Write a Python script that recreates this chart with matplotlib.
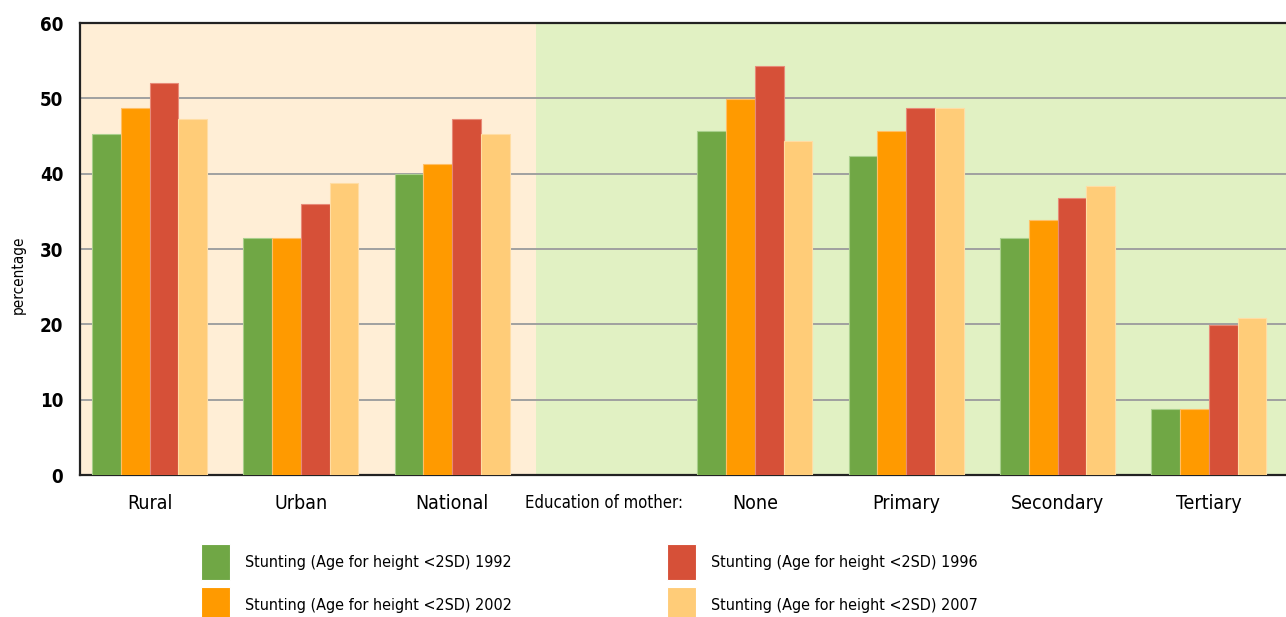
import numpy as np
import matplotlib.pyplot as plt
from matplotlib.patches import Patch

# Categories along the x axis (the blank one carries the section label)
categories = ["Rural", "Urban", "National", "Education of mother:",
              "None", "Primary", "Secondary", "Tertiary"]

# Stunting percentages per survey year (NaN = no bar)
nan = np.nan
stunting_1992 = [45.3, 31.4, 39.9, nan, 45.6, 42.3, 31.5, 8.7]
stunting_2002 = [48.7, 31.4, 41.3, nan, 49.9, 45.6, 33.8, 8.7]
stunting_1996 = [52.0, 36.0, 47.3, nan, 54.3, 48.7, 36.8, 19.9]
stunting_2007 = [47.3, 38.7, 45.3, nan, 44.4, 48.7, 38.4, 20.8]

series_labels = ["Stunting (Age for height <2SD) 1992",
                 "Stunting (Age for height <2SD) 2002",
                 "Stunting (Age for height <2SD) 1996",
                 "Stunting (Age for height <2SD) 2007"]
series_colours = ["#70a745", "#ff9a00", "#d65038", "#ffcc78"]
edge_colours = ["#a9cf8c", "#ffbf66", "#e88a78", "#ffdda4"]

FONT = "DejaVu Sans"
STRETCH = "condensed"

fig = plt.figure(figsize=(12.86, 6.17), dpi=100)
ax = fig.add_axes([0.0622, 0.2301, 0.9378, 0.7326])

x = np.arange(len(categories))
width = 0.19
offsets = np.array([-1.5, -0.5, 0.5, 1.5]) * width

# Shaded backgrounds for the two sections
ax.axvspan(-0.47, 2.555, color="#ffeed6", zorder=0, lw=0)
ax.axvspan(2.555, 7.6, color="#e1f1c3", zorder=0, lw=0)

all_series = [stunting_1992, stunting_2002, stunting_1996, stunting_2007]
for vals, off, col, ecol, lab in zip(all_series, offsets, series_colours,
                                     edge_colours, series_labels):
    ax.bar(x + off, vals, width, color=col, edgecolor=ecol, linewidth=0.8,
           label=lab, zorder=3)

ax.set_xlim(-0.46, 7.51)
ax.set_ylim(0, 60)
ax.set_yticks(np.arange(0, 61, 10))
ax.yaxis.grid(True, color="#a0a0a0", linewidth=1.4, zorder=1)
ax.set_axisbelow(True)

ax.set_xticks(x)
ax.set_xticklabels(categories, fontfamily=FONT, fontstretch=STRETCH, fontsize=14)
for lbl in ax.get_yticklabels():
    lbl.set_fontfamily(FONT)
    lbl.set_fontstretch(STRETCH)
    lbl.set_fontweight("bold")
    lbl.set_fontsize(13.5)
ax.get_xticklabels()[3].set_fontsize(12)
ax.tick_params(axis="both", length=0)
ax.tick_params(axis="x", pad=14)
ax.tick_params(axis="y", pad=12)

ax.spines["right"].set_visible(False)
for side in ["left", "top", "bottom"]:
    ax.spines[side].set_color("#222222")
    ax.spines[side].set_linewidth(1.6)

fig.text(0.014, 0.555, "percentage", rotation=90, ha="center", va="center",
         fontfamily=FONT, fontstretch=STRETCH, fontsize=11)

# Legend below the plot, two columns
handles = [Patch(facecolor=c, edgecolor="white", linewidth=0.8) for c in series_colours]
fig.legend(handles, series_labels, loc="upper left", bbox_to_anchor=(0.1563, 0.1183),
           ncol=2, frameon=False, borderpad=0, borderaxespad=0,
           handlelength=1.82, handleheight=3.13,
           handletextpad=0.94, labelspacing=0.44, columnspacing=9.7,
           prop={"family": FONT, "stretch": STRETCH, "size": 11.5})

fig.savefig("out.png", dpi=100)
